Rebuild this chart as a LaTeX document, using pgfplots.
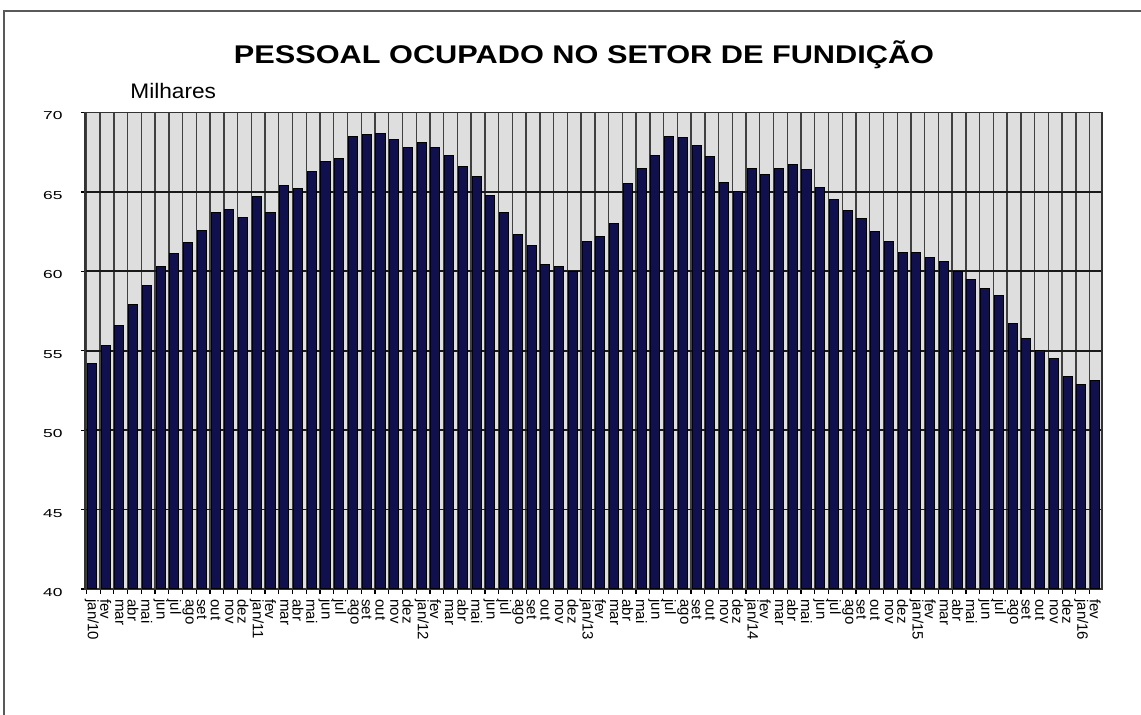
\documentclass[border=0pt]{standalone}
\usepackage{pgfplots}
\pgfplotsset{compat=1.18}
\usepackage{fontspec}
\setmainfont{Liberation Sans}
\usepackage{graphicx}
\definecolor{barblue}{RGB}{16,16,78}
\definecolor{wall}{RGB}{222,222,222}
\begin{document}
\begin{tikzpicture}
\useasboundingbox (0pt,0pt) rectangle (570.5pt,-357.5pt);
\fill[white] (0pt,0pt) rectangle (570.5pt,-357.5pt);
\draw[black!65, line width=0.8pt] (2pt,-370pt) -- (2pt,-5.5pt) -- (580pt,-5.5pt);
\node[anchor=base, inner sep=0pt, font=\fontsize{12.8pt}{14pt}\selectfont\bfseries] at (292pt,-32pt) {\scalebox{1.2}[1]{PESSOAL OCUPADO NO SETOR DE FUNDIÇÃO}};
\node[anchor=base west, inner sep=0pt, font=\fontsize{10.5pt}{12pt}\selectfont] at (65pt,-49.5pt) {\scalebox{1.08}[1]{Milhares}};
\begin{axis}[
  at={(42.5pt,-294.5pt)}, anchor=south west,
  scale only axis, width=508.5pt, height=238.25pt,
  xmin=-0.5, xmax=73.5, ymin=40, ymax=70,
  ytick={40,45,...,70},
  xtick pos=bottom, ytick pos=left,
  axis background/.style={fill=wall},
  axis line style={black!80, line width=0.9pt},
  ybar, bar width=0.66, bar shift=0pt,
  xtick={0,...,73},
  xticklabels={jan/10,fev,mar,abr,mai,jun,jul,ago,set,out,nov,dez,
    jan/11,fev,mar,abr,mai,jun,jul,ago,set,out,nov,dez,
    jan/12,fev,mar,abr,mai,jun,jul,ago,set,out,nov,dez,
    jan/13,fev,mar,abr,mai,jun,jul,ago,set,out,nov,dez,
    jan/14,fev,mar,abr,mai,jun,jul,ago,set,out,nov,dez,
    jan/15,fev,mar,abr,mai,jun,jul,ago,set,out,nov,dez,
    jan/16,fev},
  major x tick style={draw=none},
  minor xtick={-0.4,0.6,...,73.6},
  xminorgrids=true,
  minor x grid style={black!75, line width=0.7pt},
  ymajorgrids=true,
  major y grid style={black!90, line width=0.9pt},
  tick align=outside,
  major tick length=2pt, minor tick length=2.5pt,
  tick style={black, line width=0.6pt},
  xticklabel style={rotate=-90, anchor=west, inner sep=0pt, font=\fontsize{7.5pt}{8pt}\selectfont},
  xticklabel shift=3pt,
  yticklabel style={inner sep=0pt, yshift=-1.75pt, font=\fontsize{5.8pt}{6pt}\selectfont},
  yticklabel={\scalebox{1.5}[1]{\pgfmathprintnumber{\tick}}},
  yticklabel shift=9pt,
  /pgf/number format/assume math mode=true,
]
\addplot[fill=barblue, draw=black, line width=0.5pt] coordinates {
(0,54.2) (1,55.3) (2,56.6) (3,57.9) (4,59.1) (5,60.3) (6,61.1) (7,61.8) (8,62.6) (9,63.7)
(10,63.9) (11,63.4) (12,64.7) (13,63.7) (14,65.4) (15,65.2) (16,66.3) (17,66.9) (18,67.1) (19,68.5)
(20,68.6) (21,68.7) (22,68.3) (23,67.8) (24,68.1) (25,67.8) (26,67.3) (27,66.6) (28,66.0) (29,64.8)
(30,63.7) (31,62.3) (32,61.6) (33,60.4) (34,60.3) (35,60.0) (36,61.9) (37,62.2) (38,63.0) (39,65.5)
(40,66.5) (41,67.3) (42,68.5) (43,68.4) (44,67.9) (45,67.2) (46,65.6) (47,65.0) (48,66.5) (49,66.1)
(50,66.5) (51,66.7) (52,66.4) (53,65.3) (54,64.5) (55,63.8) (56,63.3) (57,62.5) (58,61.9) (59,61.2)
(60,61.2) (61,60.9) (62,60.6) (63,60.0) (64,59.5) (65,58.9) (66,58.5) (67,56.7) (68,55.8) (69,55.0)
(70,54.5) (71,53.4) (72,52.9) (73,53.1)
};
\end{axis}
\end{tikzpicture}
\end{document}
